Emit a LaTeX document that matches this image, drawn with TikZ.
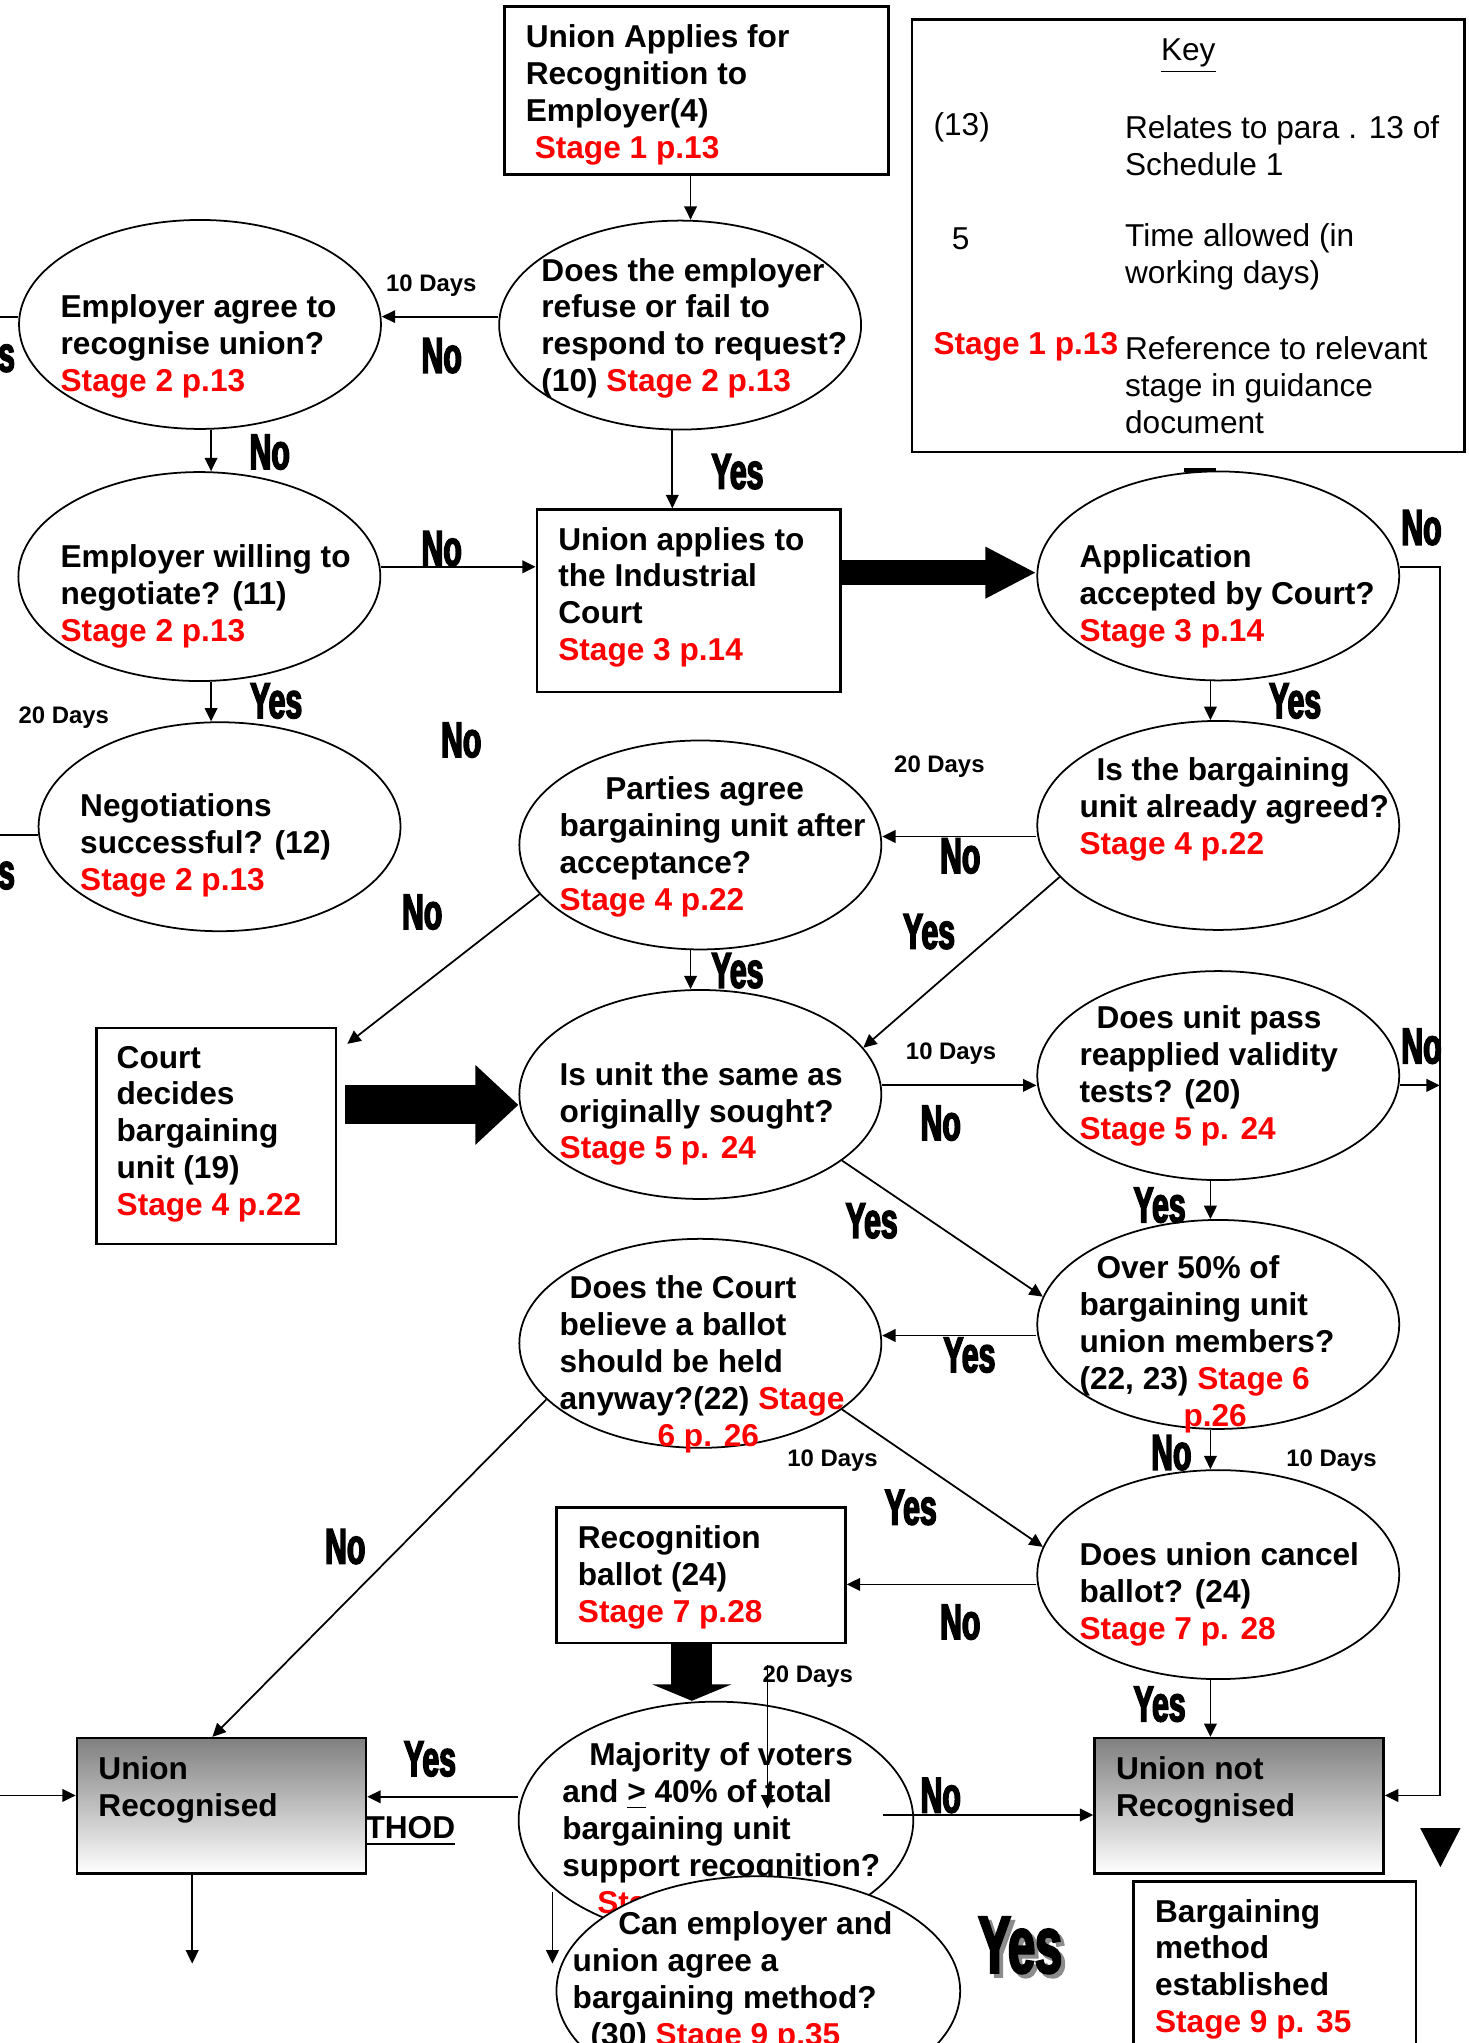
\documentclass[tikz,border=0pt]{standalone}
\usepackage{fontspec}
\setmainfont{Liberation Sans}
\newfontfamily\yesnofont{Liberation Sans}[FakeStretch=0.6,FakeBold=3]
\usetikzlibrary{shapes.geometric,arrows.meta}
\definecolor{stagered}{RGB}{255,0,0}
\newcommand{\stg}[1]{\textcolor{stagered}{#1}}
\tikzset{
  question/.style={ellipse, draw, line width=0.5pt, fill=white, minimum width=3.62cm, minimum height=2.09cm, inner sep=0pt},
  stepbox/.style={rectangle, draw, line width=0.7pt, inner sep=0pt},
  outcome/.style={rectangle, draw, line width=0.7pt, top color=black!50, bottom color=white, minimum width=2.892cm, minimum height=1.355cm},
  qtext/.style={anchor=west, align=left, inner sep=0pt, yshift=-0.9pt, font=\fontsize{9}{10.5}\selectfont\bfseries},
  keytext/.style={anchor=west, align=left, inner sep=0pt, yshift=-1.1pt, font=\fontsize{9}{10.5}\selectfont},
  yesno/.style={inner sep=0pt, font=\yesnofont\bfseries\fontsize{14.3}{15}\selectfont},
  days/.style={inner sep=0pt, font=\bfseries\fontsize{6.8}{8}\selectfont},
  flowarrow/.style={line width=0.5pt, -{Triangle[length=3.8pt,width=3.6pt]}},
  flowline/.style={line width=0.5pt},
}
\begin{document}
\begin{tikzpicture}[x=0.013026cm, y=-0.013026cm]
\useasboundingbox (0,0) rectangle (1127,1568);
\clip (0,0) rectangle (1127,1568);

% top box and key
\node at (534.5, 69.5) [stepbox, minimum width=3.843cm, minimum height=1.68cm] (applies) {};
\node at (403, 70.5) [qtext] (applies-t) {Union Applies for\\Recognition to\\Employer(4)\\\hspace{0.09cm}\stg{Stage 1 p.13}};

\node at (912, 181) [stepbox, minimum width=5.523cm, minimum height=4.325cm] (key) {};
\node at (912, 40) [keytext, anchor=center] (key-title) {\underline{Key}};
\node at (716, 95) [keytext] (key-k1) {(13)};
\node at (863, 109) [keytext] (key-v1) {Relates to para . 13 of\\Schedule 1};
\node at (730, 180) [keytext] (key-k2) {5};
\node at (863, 194) [keytext] (key-v2) {Time allowed (in\\working days)};
\node at (716, 264) [qtext] (key-k3) {\stg{Stage 1 p.13}};
\node at (863, 292.5) [keytext] (key-v3) {Reference to relevant\\stage in guidance\\document};

% employer stage
\node at (522, 249.5) [question] (refuse) {};
\node at (415, 249.5) [qtext] (refuse-t) {Does the employer\\refuse or fail to\\respond to request?\\(10) \stg{Stage 2 p.13}};
\node at (153.5, 249) [question] (agree) {};
\node at (46, 263.5) [qtext] (agree-t) {Employer agree to\\recognise union?\\\stg{Stage 2 p.13}};
\node at (153, 442.5) [question] (willing) {};
\node at (46, 455.5) [qtext] (willing-t) {Employer willing to\\negotiate? (11)\\\stg{Stage 2 p.13}};
\node at (168.5, 634.5) [question] (negotiate) {};
\node at (61, 646.5) [qtext] (negotiate-t) {Negotiations\\successful? (12)\\\stg{Stage 2 p.13}};

% court stage
\node at (528.5, 461) [stepbox, minimum width=3.035cm, minimum height=1.824cm] (court) {};
\node at (428, 456) [qtext] (court-t) {Union applies to\\the Industrial\\Court\\\stg{Stage 3 p.14}};
\node at (935, 442) [question] (accepted) {};
\node at (828, 455.5) [qtext] (accepted-t) {Application\\accepted by Court?\\\stg{Stage 3 p.14}};
\node at (935, 633.5) [question] (agreed) {};
\node at (828, 618.5) [qtext] (agreed-t) {\hspace{0.17cm}Is the bargaining\\unit already agreed?\\\stg{Stage 4 p.22}};
\node at (537.5, 648.5) [question] (parties) {};
\node at (429, 647.5) [qtext] (parties-t) {\hspace{0.456cm}Parties agree\\bargaining unit after\\acceptance?\\\stg{Stage 4 p.22}};
\node at (537.5, 840) [question] (same) {};
\node at (429, 852.5) [qtext] (same-t) {Is unit the same as\\originally sought?\\\stg{Stage 5 p. 24}};
\node at (166, 872) [stepbox, minimum width=2.397cm, minimum height=2.162cm] (decides) {};
\node at (89, 868) [qtext] (decides-t) {Court\\decides\\bargaining\\unit (19)\\\stg{Stage 4 p.22}};
\node at (935, 825.5) [question] (validity) {};
\node at (828, 823.5) [qtext] (validity-t) {\hspace{0.17cm}Does unit pass\\reapplied validity\\tests? (20)\\\stg{Stage 5 p. 24}};

% ballot stage
\node at (935, 1016.5) [question] (overfifty) {};
\node at (828, 1029.5) [qtext] (overfifty-t) {\hspace{0.17cm}Over 50\% of\\bargaining unit\\union members?\\(22, 23) \stg{Stage 6}\\\hspace{1.04cm}\stg{p.26}};
\node at (537.5, 1031) [question] (believe) {};
\node at (429, 1044.5) [qtext] (believe-t) {\hspace{0.1cm}Does the Court\\believe a ballot\\should be held\\anyway?(22) \stg{Stage}\\\hspace{0.98cm}\stg{6 p. 26}};
\node at (935, 1208.5) [question] (cancel) {};
\node at (828, 1221.5) [qtext] (cancel-t) {Does union cancel\\ballot? (24)\\\stg{Stage 7 p. 28}};
\node at (538, 1209) [stepbox, minimum width=2.892cm, minimum height=1.355cm] (ballot) {};
\node at (443, 1208.5) [qtext] (ballot-t) {Recognition\\ballot (24)\\\stg{Stage 7 p.28}};

% outcomes
\node at (280, 1403) [qtext] (method-cut) {\underline{THOD}};
\node at (170, 1386) [outcome] (recognised) {};
\node at (75, 1371.5) [qtext] (recognised-t) {Union\\Recognised};
\node at (951, 1386) [outcome] (notrecognised) {};
\node at (856, 1371.5) [qtext] (notrecognised-t) {Union not\\Recognised};
\node at (978.5, 1522) [stepbox, minimum width=2.827cm, minimum height=2.032cm] (established) {};
\node at (886, 1509) [qtext] (established-t) {Bargaining\\method\\established\\\stg{Stage 9 p. 35}};

\node at (549.5, 1397) [question, minimum width=3.947cm, minimum height=2.371cm] (majority) {};
\node at (431, 1400.5) [qtext] (majority-t) {\hspace{0.27cm}Majority of voters\\and \underline{>} 40\% of total\\bargaining unit\\support recognition?\\\hspace{0.35cm}\stg{Sta}};
\node at (582, 1528) [question, minimum width=4.038cm, minimum height=2.293cm] (method) {};
\node at (439, 1518.75) [qtext] (method-t) {\hspace{0.456cm}Can employer and\\union agree a\\bargaining method?\\\hspace{0.18cm}(30) \stg{Stage 9 p.35}};

% free ends
\coordinate (edge1) at (0,243);
\coordinate (edge2) at (0,641);
\coordinate (edge3) at (0,1378);
\coordinate (rail) at (1105,1378);
\coordinate (railk) at (1105,833);
\coordinate (majno) at (678,1393);
\coordinate (down1) at (147.5,1507);
\coordinate (down2a) at (424,1452);
\coordinate (down2b) at (424,1507);
\coordinate (days20a) at (589,1278);
\coordinate (days20b) at (589,1388);

% connectors
\draw[flowarrow] (applies.south -| 530,0) -- (refuse.north -| 530,0);
\draw[flowarrow] (refuse.west |- 0,243) -- (agree.east |- 0,243);
\draw[flowline] (agree.west |- 0,243) -- (edge1);
\draw[flowarrow] (agree.south -| 162,0) -- (willing.north -| 162,0);
\draw[flowarrow] (willing.east |- 0,435) -- (court.west |- 0,435);
\draw[flowarrow] (refuse.south -| 516,0) -- (court.north -| 516,0);
\draw[line width=0.25cm, -{Triangle[length=0.51cm,width=0.48cm]}] (court.east |- 0,439.5) -- (accepted.west |- 0,439.5);
\draw[line width=1.2pt] (909,361) -- (933,361);
\draw[flowarrow] (accepted.east |- 0,435) -| (rail) -- (notrecognised.east |- 0,1378);
\draw[flowarrow] (accepted.south -| 929,0) -- (agreed.north -| 929,0);
\draw[flowarrow] (willing.south -| 162,0) -- (negotiate.north -| 162,0);
\draw[flowline] (negotiate.west |- 0,641) -- (edge2);
\draw[flowarrow] (agreed.west |- 0,642) -- (parties.east |- 0,642);
\draw[flowarrow] (parties.south -| 530,0) -- (same.north -| 530,0);
\draw[flowarrow] (agreed.198) -- (same.16);
\draw[flowarrow] (parties.197) -- ([xshift=0.1cm,yshift=-0.17cm]decides.north east);
\draw[line width=0.39cm, -{Triangle[length=0.43cm,width=0.77cm]}] ([xshift=0.08cm]decides.east |- 0,848) -- (same.west |- 0,848);
\draw[flowarrow] (same.east |- 0,833) -- (validity.west |- 0,833);
\draw[flowarrow] (validity.east |- 0,833) -- (railk);
\draw[flowarrow] (validity.south -| 929,0) -- (overfifty.north -| 929,0);
\draw[flowarrow] (same.335) -- (overfifty.171);
\draw[flowarrow] (overfifty.west |- 0,1025) -- (believe.east |- 0,1025);
\draw[flowarrow] (overfifty.south -| 929,0) -- (cancel.north -| 929,0);
\draw[flowarrow] (believe.335) -- (cancel.171);
\draw[flowarrow] (believe.200) -- (recognised.north -| 163,0);
\draw[flowarrow] (cancel.west |- 0,1216) -- (ballot.east |- 0,1216);
\draw[flowarrow] (cancel.south -| 929,0) -- (notrecognised.north -| 929,0);
\draw[line width=0.41cm, -{Triangle[length=0.165cm,width=0.79cm]}] (ballot.south -| 531,0) -- (majority.north -| 531,0);
\draw[flowarrow] (majority.west |- 0,1379) -- (recognised.east |- 0,1379);
\draw[flowarrow] (majno) -- (notrecognised.west |- 0,1393);
\draw[flowarrow] (edge3) -- (recognised.west |- 0,1378);
\draw[flowarrow] (recognised.south -| 147.5,0) -- (down1);
\draw[flowarrow] (down2a) -- (down2b);
\draw[flowarrow] (days20a) -- (days20b);
\fill (1090,1403) -- (1121,1403) -- (1105.5,1433) -- cycle;

% labels
\node at (331, 219) [days] (d1) {10 Days};
\node at (49, 551) [days] (d2) {20 Days};
\node at (721, 588) [days] (d3) {20 Days};
\node at (730, 809) [days] (d4) {10 Days};
\node at (639, 1121) [days] (d5) {10 Days};
\node at (1022, 1121) [days] (d6) {10 Days};
\node at (620, 1287) [days] (d7) {20 Days};

\node at (5, 275) [yesno] (cut1) {s};
\node at (5, 672) [yesno] (cut2) {s};
\node at (339, 273) [yesno] (no1) {No};
\node at (207, 347) [yesno] (no2) {No};
\node at (339, 421) [yesno] (no3) {No};
\node at (566, 362) [yesno] (yes1) {Yes};
\node at (1091, 405) [yesno] (no4) {No};
\node at (994, 538) [yesno] (yes2) {Yes};
\node at (212, 538) [yesno] (yes3) {Yes};
\node at (354, 568) [yesno] (no5) {No};
\node at (737, 657) [yesno] (no6) {No};
\node at (324, 700) [yesno] (no7) {No};
\node at (713, 715) [yesno] (yes4) {Yes};
\node at (566, 745) [yesno] (yes5) {Yes};
\node at (1091, 803) [yesno] (no8) {No};
\node at (722, 862) [yesno] (no9) {No};
\node at (890, 925) [yesno] (yes6) {Yes};
\node at (669, 937) [yesno] (yes7) {Yes};
\node at (744, 1040) [yesno] (yes8) {Yes};
\node at (899, 1115) [yesno] (no10) {No};
\node at (265, 1187) [yesno] (no11) {No};
\node at (699, 1157) [yesno] (yes9) {Yes};
\node at (737, 1245) [yesno] (no12) {No};
\node at (890, 1308) [yesno] (yes10) {Yes};
\node at (330, 1350) [yesno] (yes11) {Yes};
\node at (722, 1378) [yesno] (no13) {No};
\node at (786, 1496) [yesno, font=\yesnofont\bfseries\fontsize{23}{24}\selectfont, text=black!45] (bigyes-shadow) {Yes};
\node at (783, 1493) [yesno, font=\yesnofont\bfseries\fontsize{23}{24}\selectfont] (bigyes) {Yes};
\end{tikzpicture}
\end{document}
